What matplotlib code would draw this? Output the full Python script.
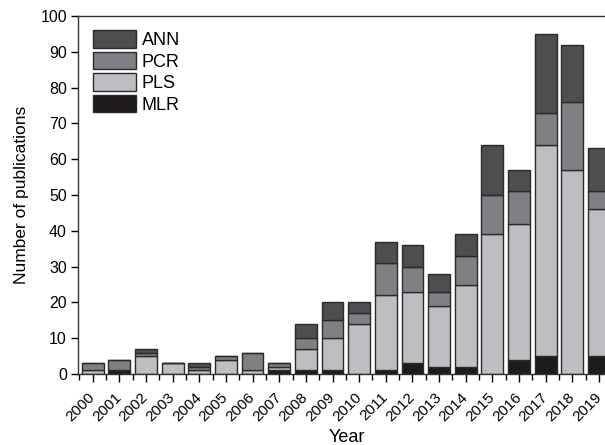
import matplotlib
matplotlib.use("Agg")
import matplotlib.pyplot as plt
import numpy as np
from matplotlib.ticker import MultipleLocator

plt.rcParams['font.family'] = ['Liberation Sans', 'DejaVu Sans']

years = [str(y) for y in range(2000, 2020)]
MLR = [0, 1, 0, 0, 0, 0, 0, 1, 1, 1, 0, 1, 3, 2, 2, 0, 4, 5, 0, 5]
PLS = [1, 0, 5, 3, 1, 4, 1, 1, 6, 9, 14, 21, 20, 17, 23, 39, 38, 59, 57, 41]
PCR = [2, 3, 1, 0, 1, 1, 5, 1, 3, 5, 3, 9, 7, 4, 8, 11, 9, 9, 19, 5]
ANN = [0, 0, 1, 0, 1, 0, 0, 0, 4, 5, 3, 6, 6, 5, 6, 14, 6, 22, 16, 12]

series = [("MLR", MLR, "#1f1b1c"), ("PLS", PLS, "#bdbec1"),
          ("PCR", PCR, "#808084"), ("ANN", ANN, "#4e4e51")]

fig = plt.figure(figsize=(6.05, 4.45), dpi=100)
ax = fig.add_axes([78/605, 1-374/445, (615-78)/605, (374-16)/445])

x = np.arange(len(years))
bottom = np.zeros(len(years))
handles = {}
for name, vals, col in series:
    vals = np.array(vals)
    b = ax.bar(x, vals, 0.82, bottom=bottom, color=col, edgecolor="#2a2a2a",
               linewidth=1.0, label=name)
    handles[name] = b
    bottom += vals

ax.set_xlim(-0.55, 19.6)
ax.set_ylim(0, 100)
ax.yaxis.set_major_locator(MultipleLocator(10))
ax.set_xticks(x)
ax.set_xticklabels(years, rotation=45, ha='right', va='center',
                   rotation_mode='anchor', fontsize=11)
ax.xaxis.set_minor_locator(MultipleLocator(0.5))
ax.tick_params(axis='x', which='major', length=6, width=1, direction='out', pad=9)
ax.tick_params(axis='x', which='minor', length=4, width=1, direction='out')
ax.tick_params(axis='y', which='major', length=5, width=1, direction='out',
               labelsize=11.5, pad=3)
for s in ax.spines.values():
    s.set_linewidth(1.0)
    s.set_color("#333333")

ax.set_ylabel("Number of publications", fontsize=12.5, labelpad=8)
ax.set_xlabel("Year", fontsize=13, labelpad=4)

order = ["ANN", "PCR", "PLS", "MLR"]
leg = ax.legend([handles[n] for n in order], order, loc='upper left',
                bbox_to_anchor=(0.004, 0.995), frameon=False, fontsize=13,
                handlelength=2.4, handleheight=1.12, labelspacing=0.14,
                handletextpad=0.3, borderaxespad=0.3)

fig.savefig("out.png", dpi=100)
